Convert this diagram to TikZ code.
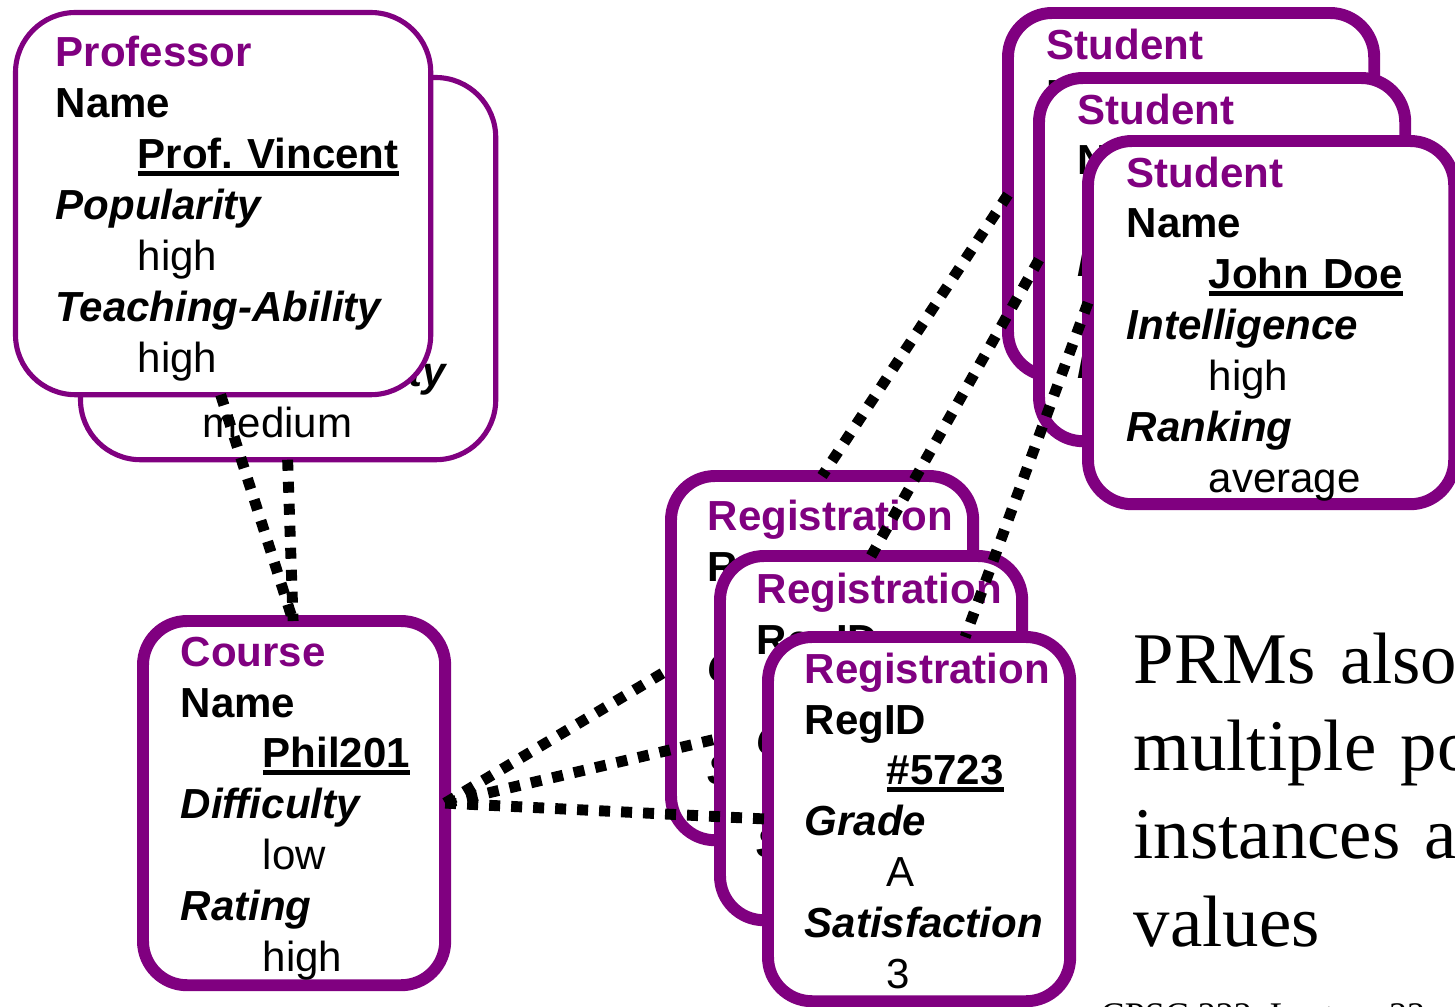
\documentclass[tikz,border=0pt]{standalone}
\usepackage{fontspec}
\setmainfont{Liberation Serif}
\newfontfamily\boxfam{Liberation Sans}
\usetikzlibrary{positioning,calc}
\definecolor{cObj}{HTML}{800080}
\newcommand{\boxfont}{\boxfam\bfseries\fontsize{11.95pt}{14.5pt}\selectfont}
\newcommand{\vind}{\hspace*{0.82cm}}
\newcommand{\undl}[1]{\setbox0\hbox{#1}\rlap{\rule[-0.17em]{\wd0}{0.12em}}\box0}
\newcommand{\att}[1]{\textit{#1}}
\newcommand{\val}[1]{\vind{\mdseries #1}}
\newcommand{\ttl}[1]{\textcolor{cObj}{#1}}

\begin{document}
\begin{tikzpicture}[x=0.01cm,y=-0.01cm,
  obj/.style={draw=cObj,fill=white,line width=3.4pt,rounded corners=0.44cm,anchor=north west,inner sep=0pt,outer sep=0pt},
  sbox/.style={obj,minimum width=3.66cm,minimum height=3.63cm},
  rbox/.style={obj,minimum width=3.02cm,minimum height=3.64cm},
  pbox/.style={obj,line width=1.45pt,rounded corners=0.6cm,minimum width=4.15cm,minimum height=3.82cm},
  txt/.style={anchor=base west,inner sep=0pt,text width=3.8cm,align=left,font=\boxfont},
  link/.style={line width=3.1pt,dash pattern=on 0.11cm off 0.11cm},
  note/.style={anchor=base west,inner sep=0pt,text width=4cm,align=left,font=\fontsize{20.7pt}{25pt}\selectfont}]
\useasboundingbox (0,0) rectangle (1455,1006);
% professor (two copies)
\node[pbox] (pb) at (80.5,77.5) {};
\node[txt] (pbt) at ($(pb.north west)+(39.5,54.5)$) {\ttl{Professor}\\ Name\\ \mbox{}\\ \att{Popularity}\\ \mbox{}\\ \att{Teaching-Ability}\\ \val{medium}};
\node[pbox] (pf) at (15.5,12.5) {};
\node[txt] (pft) at ($(pf.north west)+(39.5,54.5)$) {\ttl{Professor}\\ Name\\ \vind\undl{Prof.\ Vincent}\\ \att{Popularity}\\ \val{high}\\ \att{Teaching-Ability}\\ \val{high}};
% students
\node[sbox] (s1) at (1008,13) {};
\node[txt] (s1t) at ($(s1.north west)+(38,46)$) {\ttl{Student}\\ Name\\ \mbox{}\\ \att{Intelligence}\\ \mbox{}\\ \att{Ranking}\\ \mbox{}};
\node[sbox] (s2) at (1039,78) {};
\node[txt] (s2t) at ($(s2.north west)+(38,46)$) {\ttl{Student}\\ Name\\ \mbox{}\\ \att{Intelligence}\\ \mbox{}\\ \att{Ranking}\\ \mbox{}};
\node[sbox] (s3) at (1088,141) {};
\node[txt] (s3t) at ($(s3.north west)+(38,46)$) {\ttl{Student}\\ Name\\ \vind\undl{John Doe}\\ \att{Intelligence}\\ \val{high}\\ \att{Ranking}\\ \val{average}};
% registrations
\node[rbox] (r1) at (671,476) {};
\node[txt] (r1t) at ($(r1.north west)+(36,54)$) {\ttl{Registration}\\ RegID\\ \mbox{}\\ \att{Grade}\\ \mbox{}\\ \att{Satisfaction}\\ \mbox{}};
\node[rbox] (r2) at (720,556) {};
\node[txt] (r2t) at ($(r2.north west)+(36,47)$) {\ttl{Registration}\\ RegID\\ \mbox{}\\ \att{Grade}\\ \mbox{}\\ \att{Satisfaction}\\ \mbox{}};
\node[rbox] (r3) at (768,637) {};
\node[txt] (r3t) at ($(r3.north west)+(36,46)$) {\ttl{Registration}\\ RegID\\ \vind\undl{\#5723}\\ \att{Grade}\\ \val{A}\\ \att{Satisfaction}\\ \val{3}};
% course
\node[rbox] (crs) at (143,621) {};
\node[txt] (crst) at ($(crs.north west)+(37,45)$) {\ttl{Course}\\ Name\\ \vind\undl{Phil201}\\ \att{Difficulty}\\ \val{low}\\ \att{Rating}\\ \val{high}};
% links
\draw[link] ([xshift=2.05cm]pf.south west) -- ([xshift=1.5cm]crs.north west);
\draw[link] ([xshift=2.07cm]pb.south west) -- ([xshift=1.5cm]crs.north west);
\foreach \r/\s in {r1/-0.1cm,r2/0cm,r3/0cm}{\draw[link] (crs.east) -- ([yshift=\s]\r.west);}
\draw[link] (s1.west) -- (r1.north);
\draw[link] (s2.west) -- (r2.north);
\draw[link] ([yshift=0.2cm]s3.west) -- ([xshift=0.46cm]r3.north);
% side text
\node[note] (msg) at (1133,683) {PRMs also\\ multiple po\\ instances a\\ values};
\node[anchor=base west,inner sep=0pt,font=\fontsize{10.25pt}{12pt}\selectfont] (foot) at (1100,1027) {CPSC 322, Lecture 33};
\end{tikzpicture}
\end{document}
